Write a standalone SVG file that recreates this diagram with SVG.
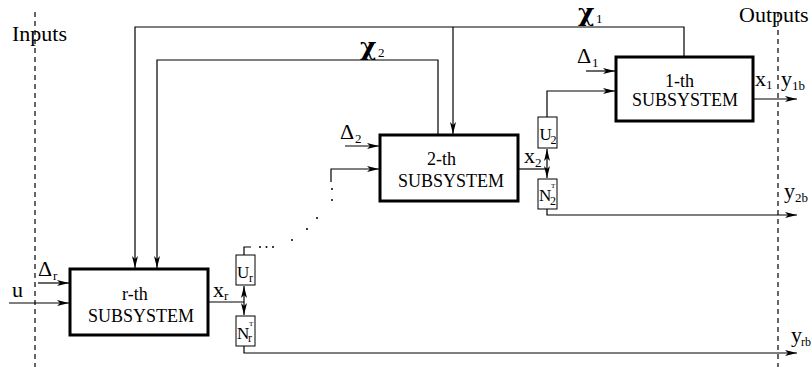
<svg xmlns="http://www.w3.org/2000/svg" width="812" height="367" viewBox="0 0 812 367">
<style>
text{font-family:"Liberation Serif","Times New Roman",serif;fill:#000}
.ln{fill:none;stroke:#000;stroke-width:1.2}
.ar{fill:none;stroke:#000;stroke-width:1.2;marker-end:url(#ah)}
.da{fill:none;stroke:#000;stroke-width:1.2;marker-start:url(#ah);marker-end:url(#ah)}
.dash{fill:none;stroke:#000;stroke-width:1.2;stroke-dasharray:5 4}
.box{fill:#fff;stroke:#000;stroke-width:3}
.sbox{fill:#fff;stroke:#000;stroke-width:1}
.t{font-size:18px}
.lb{font-size:22px}
.sb{font-size:13px}
.ub{font-size:17px}
.us{font-size:12px}
.tt{font-size:7px}
.chi{font-family:"DejaVu Serif",serif;font-size:25px;font-weight:bold}
.dot{fill:#000}
</style>
<defs>
<marker id="ah" viewBox="0 0 12 6" refX="12" refY="3" markerWidth="12" markerHeight="6" markerUnits="userSpaceOnUse" orient="auto-start-reverse">
<path d="M0,0 L12,3 L0,6 L3,3 Z" fill="#000"/>
</marker>
</defs>

<g id="borders">
<line class="dash" x1="35" y1="12" x2="35" y2="367"/>
<line class="dash" x1="778" y1="12" x2="778" y2="367"/>
<text x="12" y="41" style="font-size:22px">Inputs</text>
<text x="739" y="22" style="font-size:22px">Outputs</text>
</g>

<g id="connectors">
<path class="ar" d="M684,57 V27 H135 V268"/>
<path class="ar" d="M453,27 V134"/>
<path class="ar" d="M438,135 V60 H157 V268"/>
<path class="ar" d="M586,71 H615"/>
<path class="ar" d="M547,117 V91 H615"/>
<path class="ar" d="M753,99 H797"/>
<path class="ar" d="M345,146 H379"/>
<path class="ar" d="M331,182 V169 H379"/>
<path class="ln" d="M518,169 H547"/>
<path class="da" d="M547,149 V178"/>
<path class="ar" d="M547,209 V215 H797"/>
<path class="ar" d="M38,283 H69"/>
<path class="ar" d="M9,303 H69"/>
<path class="ln" d="M208,302 H244"/>
<path class="da" d="M244,286 V315"/>
<path class="ar" d="M244,346 V353 H797"/>
<path class="ln" d="M244,255 V247 H251"/>
<g class="dot">
<circle cx="332" cy="189" r="1"/>
<circle cx="332" cy="200" r="1"/>
<circle cx="317" cy="218" r="1"/>
<circle cx="307" cy="229" r="1"/>
<circle cx="292" cy="240" r="1"/>
<circle cx="260" cy="247" r="1"/>
<circle cx="266.5" cy="247" r="1"/>
<circle cx="273" cy="247" r="1"/>
</g>
</g>

<g id="sub1">
<rect class="box" x="616" y="57" width="137" height="64"/>
<text class="t" x="665" y="87">1-th</text>
<text class="t" x="685" y="106" text-anchor="middle">SUBSYSTEM</text>
</g>
<g id="sub2">
<rect class="box" x="380" y="135" width="138" height="66"/>
<text class="t" x="427" y="165">2-th</text>
<text class="t" x="451" y="187" text-anchor="middle">SUBSYSTEM</text>
</g>
<g id="subr">
<rect class="box" x="70" y="269" width="138" height="66"/>
<text class="t" x="122" y="300">r-th</text>
<text class="t" x="141" y="322" text-anchor="middle">SUBSYSTEM</text>
</g>

<g id="U2">
<rect class="sbox" x="538" y="117" width="19" height="31"/>
<text class="ub" x="539.5" y="140">U</text><text class="us" x="550.5" y="144">2</text>
</g>
<g id="N2">
<rect class="sbox" x="538" y="179" width="19" height="30"/>
<text class="ub" x="539" y="201">N</text><text class="us" x="550" y="205">2</text><text class="tt" x="551" y="188">T</text>
</g>
<g id="Ur">
<rect class="sbox" x="236" y="255" width="19" height="30"/>
<text class="ub" x="237" y="278">U</text><text class="us" x="249" y="282">r</text>
</g>
<g id="Nr">
<rect class="sbox" x="236" y="316" width="19" height="30"/>
<text class="ub" x="237" y="339">N</text><text class="us" x="248" y="342">r</text><text class="tt" x="249" y="326">T</text>
</g>

<g id="labels">
<text class="chi" x="578" y="21">χ</text><text class="sb" x="596" y="23">1</text>
<text class="chi" x="360" y="55">χ</text><text class="sb" x="378" y="57">2</text>
<text class="lb" x="577" y="63">Δ</text><text class="sb" x="592" y="67">1</text>
<text class="lb" x="340" y="139">Δ</text><text class="sb" x="355" y="143">2</text>
<text class="lb" x="38" y="276">Δ</text><text class="sb" x="53" y="280">r</text>
<text class="lb" x="12" y="297">u</text>
<text class="lb" x="213" y="297">x</text><text class="sb" x="224" y="300">r</text>
<text class="lb" x="524" y="163">x</text><text class="sb" x="535" y="167">2</text>
<text class="lb" x="755" y="86">x</text><text class="sb" x="766" y="89">1</text>
<text class="lb" x="781" y="86">y</text><text class="sb" x="792" y="90">1b</text>
<text class="lb" x="784" y="198">y</text><text class="sb" x="795" y="202">2b</text>
<text class="lb" x="791" y="342">y</text><text class="sb" x="801" y="346" style="font-size:12px">rb</text>
</g>
</svg>
